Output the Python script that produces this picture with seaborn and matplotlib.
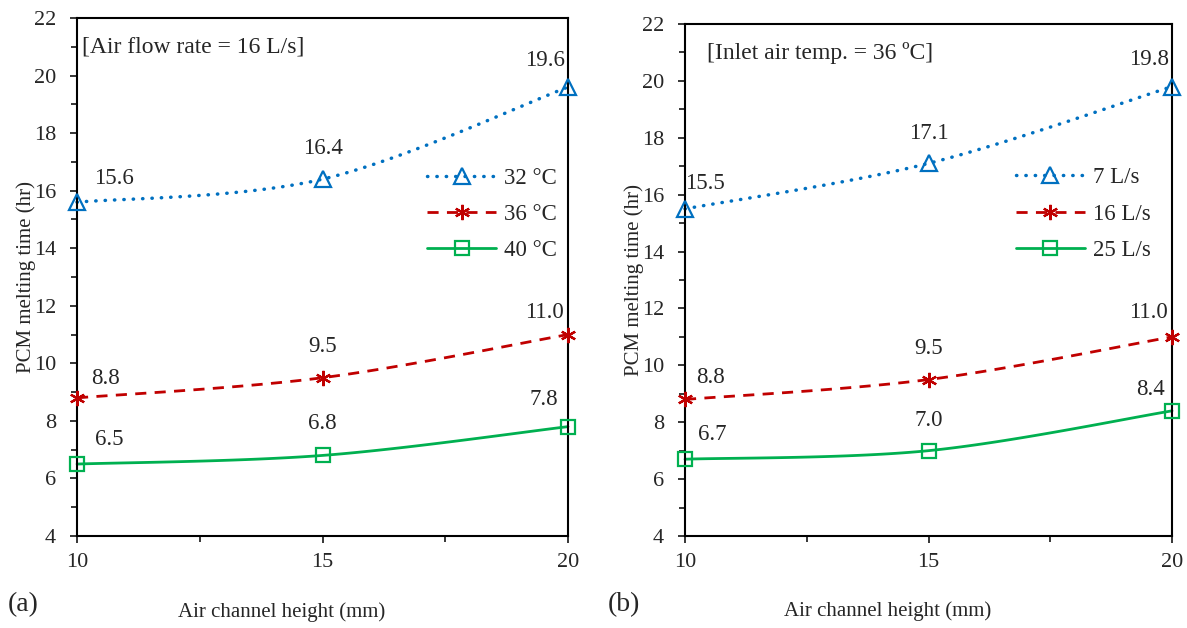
import numpy as np
import pandas as pd
import matplotlib
matplotlib.use("Agg")
import matplotlib.pyplot as plt
import seaborn as sns
from matplotlib.lines import Line2D

# Air channel heights (mm)
heights = [10, 15, 20]

# (a) air flow rate fixed at 16 L/s, inlet temperature varies
temp_labels = ["32 °C", "36 °C", "40 °C"]
t32 = [15.6, 16.4, 19.6]
t36 = [8.8, 9.5, 11.0]
t40 = [6.5, 6.8, 7.8]

# (b) inlet air temperature fixed at 36 C, flow rate varies
flow_labels = ["7 L/s", "16 L/s", "25 L/s"]
f7 = [15.5, 17.1, 19.8]
f16 = [8.8, 9.5, 11.0]
f25 = [6.7, 7.0, 8.4]

colors = ["#0070C0", "#C00000", "#00B050"]
styles = [(0, (0.1, 2.6)), (0, (4, 3)), "-"]
widths = [2.5, 2.0, 2.0]
markers = ["^", (6, 2, 0), "s"]
msizes = [11, 11, 10]

# label offsets in pixels (dx, dy) for each series / point
offs_a = [[(37, 24), (0, 31), (-23, 27)],
          [(28, 19), (0, 31), (-24, 22)],
          [(32, 25), (0, 32), (-24, 27)]]
offs_b = [[(20, 25), (0, 30), (-23, 27)],
          [(25, 22), (0, 31), (-24, 24)],
          [(27, 25), (0, 30), (-22, 21)]]


def excel_smooth(x, y, n=40):
    # Excel-style smoothed line (cubic Bezier through the points)
    pts = np.column_stack([x, y]).astype(float)
    ext = np.vstack([pts[0], pts, pts[-1]])
    out = []
    t = np.linspace(0, 1, n)[:, None]
    for i in range(len(pts) - 1):
        p0, p1 = pts[i], pts[i + 1]
        c1 = p0 + (ext[i + 2] - ext[i]) / 6
        c2 = p1 - (ext[i + 3] - ext[i + 1]) / 6
        seg = (1 - t) ** 3 * p0 + 3 * (1 - t) ** 2 * t * c1 + 3 * (1 - t) * t ** 2 * c2 + t ** 3 * p1
        out.append(seg if i == 0 else seg[1:])
    return np.vstack(out)


def draw_panel(ax, series, labels, offsets, note, note_xy, leg_anchor, ylab_x):
    for k, vals in enumerate(series):
        curve = excel_smooth(heights, vals)
        df = pd.DataFrame({"x": curve[:, 0], "y": curve[:, 1]})
        sns.lineplot(data=df, x="x", y="y", ax=ax, sort=False, estimator=None,
                     color=colors[k], linewidth=widths[k], linestyle=styles[k],
                     dash_capstyle="round" if k == 0 else "butt", clip_on=False)
        ax.plot(heights, vals, linestyle="none", marker=markers[k], markersize=msizes[k],
                markerfacecolor="none", markeredgecolor=colors[k], markeredgewidth=1.6,
                clip_on=False, zorder=5)
        for j, v in enumerate(vals):
            ax.annotate(f"{v:.1f}", (heights[j], v), xytext=offsets[k][j],
                        textcoords="offset pixels", ha="center", va="center",
                        fontsize=16.5)
    ax.set_xlim(10, 20)
    ax.set_ylim(4, 22)
    ax.set_xticks([10, 15, 20])
    ax.set_xticks([12.5, 17.5], minor=True)
    ax.set_yticks(range(4, 23, 2))
    ax.set_yticks(range(5, 22, 2), minor=True)
    ax.tick_params(axis="both", which="both", direction="out", labelsize=16,
                   width=1.3, top=False, right=False)
    ax.tick_params(axis="both", which="major", length=5)
    ax.tick_params(axis="both", which="minor", length=4)
    ax.tick_params(axis="x", which="major", pad=7)
    ax.tick_params(axis="y", which="major", pad=10)
    for sp in ax.spines.values():
        sp.set_visible(True)
        sp.set_linewidth(1.5)
        sp.set_color("black")
    ax.set_xlabel("Air channel height (mm)", fontsize=15)
    ax.set_ylabel("PCM melting time (hr)", fontsize=15)
    ax.xaxis.set_label_coords(0.417, -0.127)
    ax.yaxis.set_label_coords(ylab_x, 0.5)
    ax.text(note_xy[0], note_xy[1], note, transform=ax.transAxes,
            ha="left", va="center", fontsize=17)
    handles = [Line2D([], [], color=colors[k], linestyle=styles[k], linewidth=widths[k],
                      dash_capstyle="round" if k == 0 else "butt",
                      marker=markers[k], markersize=msizes[k],
                      markerfacecolor="none", markeredgecolor=colors[k],
                      markeredgewidth=1.6) for k in range(3)]
    ax.legend(handles, labels, loc="upper left", bbox_to_anchor=leg_anchor,
              frameon=False, fontsize=16.5, handlelength=3.0, handletextpad=0.35,
              labelspacing=0.67, borderaxespad=0)


def main():
    sns.set_style("ticks")
    plt.rcParams["font.family"] = ["Liberation Serif", "DejaVu Serif"]

    fig = plt.figure(figsize=(11.87, 6.28), dpi=100)
    ax_a = fig.add_axes([0.0649, 0.1465, 0.4136, 0.8248])
    ax_b = fig.add_axes([0.5771, 0.1465, 0.4103, 0.8153])

    draw_panel(ax_a, [t32, t36, t40], temp_labels, offs_a,
               "[Air flow rate = 16 L/s]", (0.01, 0.944), (0.695, 0.729), -0.083)
    draw_panel(ax_b, [f7, f16, f25], flow_labels, offs_b,
               "[Inlet air temp. = 36 ºC]", (0.045, 0.943), (0.661, 0.738), -0.084)

    fig.text(23 / 1187, 1 - 605 / 628, "(a)", ha="center", va="center", fontsize=20)
    fig.text(624 / 1187, 1 - 605 / 628, "(b)", ha="center", va="center", fontsize=20)

    fig.savefig("out.png", dpi=100)


if __name__ == "__main__":
    main()
